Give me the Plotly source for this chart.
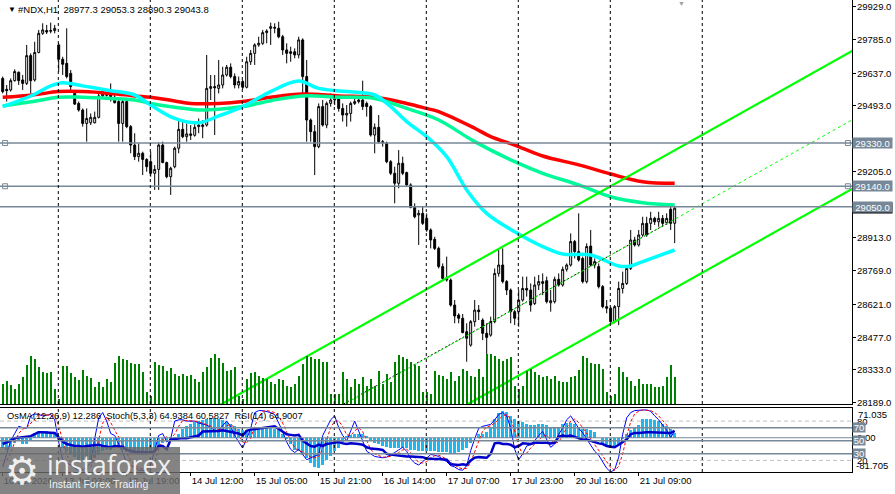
import plotly.graph_objects as go

# ---- #NDX H1 candles (bar index 0..168) ----
opens = [29614, 29566, 29563, 29604, 29641, 29607, 29592, 29714, 29607, 29728,
         29812, 29824, 29821, 29824, 29761, 29698, 29680, 29636, 29548, 29504,
         29475, 29416, 29419, 29419, 29443, 29537, 29545, 29548, 29531, 29512,
         29416, 29512, 29402, 29321, 29270, 29285, 29258, 29248, 29197, 29214,
         29321, 29244, 29182, 29226, 29307, 29390, 29358, 29370, 29364, 29402,
         29402, 29409, 29570, 29578, 29570, 29585, 29629, 29663, 29622, 29585,
         29600, 29575, 29687, 29724, 29761, 29768, 29815, 29834, 29834, 29834,
         29797, 29739, 29731, 29731, 29717, 29783, 29622, 29431, 29380, 29314,
         29490, 29409, 29504, 29519, 29526, 29482, 29453, 29460, 29504, 29512,
         29519, 29504, 29490, 29365, 29399, 29336, 29329, 29248, 29197, 29153,
         29241, 29200, 29146, 29047, 29014, 29021, 28999, 28948, 28907, 28867,
         28787, 28735, 28728, 28618, 28574, 28560, 28501, 28442, 28545, 28596,
         28552, 28494, 28486, 28545, 28757, 28794, 28721, 28684, 28589, 28589,
         28640, 28691, 28684, 28625, 28706, 28713, 28725, 28628, 28633, 28731,
         28706, 28775, 28794, 28897, 28853, 28823, 28721, 28877, 28794, 28787,
         28699, 28611, 28604, 28545, 28611, 28691, 28713, 28779, 28904, 28882,
         28926, 28977, 28977, 28999, 28984, 28999, 28980, 29039, 28977.3]
highs = [29622, 29585, 29614, 29654, 29644, 29629, 29761, 29724, 29775, 29827,
         29856, 29849, 29859, 29849, 29768, 29709, 29834, 29651, 29556, 29512,
         29482, 29482, 29460, 29468, 29548, 29556, 29551, 29592, 29541, 29519,
         29519, 29519, 29409, 29373, 29329, 29292, 29263, 29292, 29233, 29332,
         29336, 29248, 29226, 29314, 29438, 29424, 29416, 29409, 29416, 29438,
         29431, 29717, 29629, 29629, 29695, 29665, 29673, 29680, 29636, 29622,
         29607, 29709, 29739, 29768, 29797, 29827, 29830, 29859, 29856, 29863,
         29805, 29768, 29753, 29746, 29797, 29790, 29695, 29438, 29409, 29504,
         29519, 29512, 29548, 29541, 29541, 29504, 29497, 29512, 29526, 29541,
         29604, 29512, 29497, 29416, 29453, 29343, 29336, 29255, 29226, 29299,
         29270, 29204, 29153, 29065, 29036, 29050, 29021, 28955, 28918, 28875,
         28801, 28831, 28735, 28640, 28582, 28579, 28538, 28552, 28640, 28618,
         28560, 28538, 28567, 28779, 28863, 28867, 28728, 28691, 28596, 28684,
         28743, 28743, 28713, 28743, 28750, 28757, 28743, 28684, 28743, 28757,
         28787, 28801, 28933, 28904, 29021, 28831, 28889, 28948, 28823, 28801,
         28706, 28640, 28611, 28618, 28721, 28765, 28787, 28948, 28918, 28948,
         29006, 29006, 29028, 29006, 29028, 29014, 29021, 29050, 29053.3]
lows = [29548, 29512, 29556, 29600, 29585, 29563, 29585, 29548, 29600, 29724,
        29805, 29809, 29812, 29812, 29644, 29629, 29614, 29556, 29497, 29468,
        29402, 29336, 29409, 29416, 29438, 29531, 29534, 29512, 29504, 29336,
        29336, 29395, 29285, 29255, 29248, 29189, 29204, 29182, 29124, 29124,
        29241, 29175, 29102, 29219, 29285, 29351, 29336, 29343, 29358, 29373,
        29351, 29402, 29519, 29365, 29548, 29570, 29622, 29614, 29570, 29570,
        29566, 29570, 29673, 29673, 29753, 29761, 29768, 29761, 29812, 29790,
        29717, 29680, 29687, 29702, 29702, 29541, 29336, 29336, 29189, 29307,
        29402, 29395, 29490, 29497, 29468, 29424, 29402, 29424, 29497, 29504,
        29475, 29446, 29358, 29285, 29329, 29314, 29241, 29189, 29065, 29131,
        29189, 29138, 29043, 28999, 28882, 28970, 28940, 28867, 28860, 28779,
        28728, 28721, 28611, 28538, 28538, 28494, 28369, 28435, 28523, 28552,
        28464, 28377, 28479, 28538, 28743, 28713, 28662, 28538, 28530, 28523,
        28633, 28655, 28589, 28618, 28684, 28662, 28625, 28589, 28625, 28699,
        28699, 28765, 28787, 28823, 28809, 28713, 28713, 28787, 28779, 28691,
        28604, 28582, 28538, 28538, 28530, 28669, 28706, 28772, 28875, 28875,
        28918, 28918, 28948, 28970, 28962, 28962, 28970, 28948, 28890.3]
closes = [29556, 29560, 29604, 29644, 29604, 29592, 29714, 29604, 29728, 29812,
          29827, 29818, 29824, 29834, 29698, 29676, 29622, 29578, 29501, 29475,
          29416, 29438, 29443, 29443, 29537, 29545, 29540, 29534, 29507, 29416,
          29512, 29402, 29321, 29270, 29285, 29258, 29226, 29197, 29214, 29321,
          29244, 29182, 29219, 29307, 29390, 29358, 29370, 29364, 29399, 29409,
          29409, 29570, 29578, 29573, 29585, 29629, 29663, 29622, 29585, 29600,
          29575, 29687, 29724, 29761, 29768, 29815, 29822, 29841, 29838, 29797,
          29739, 29724, 29724, 29717, 29783, 29622, 29431, 29380, 29314, 29490,
          29409, 29504, 29519, 29526, 29482, 29453, 29460, 29504, 29512, 29519,
          29490, 29490, 29365, 29399, 29336, 29332, 29248, 29197, 29153, 29241,
          29197, 29146, 29047, 29006, 29021, 28977, 28948, 28904, 28867, 28787,
          28735, 28728, 28618, 28570, 28560, 28497, 28472, 28545, 28596, 28589,
          28494, 28476, 28545, 28757, 28794, 28721, 28684, 28589, 28560, 28640,
          28691, 28684, 28618, 28706, 28721, 28721, 28633, 28637, 28731, 28706,
          28775, 28794, 28897, 28853, 28816, 28721, 28875, 28794, 28809, 28699,
          28611, 28604, 28545, 28611, 28691, 28713, 28779, 28904, 28882, 28926,
          28977, 28926, 28999, 28984, 28999, 28977, 28999, 28977, 29043.8]
tick_volume = [2000, 2300, 1900, 1500, 2000, 2700, 3900, 4800, 4500, 3700,
               3200, 3100, 3200, 1500, 500, 3800, 3800, 3100, 2700, 2400,
               3400, 2800, 2600, 1700, 2200, 1700, 2500, 2200, 4100, 4800,
               4500, 4400, 4100, 4000, 4000, 3200, 1200, 800, 4200, 3900,
               3800, 3300, 3600, 3000, 2800, 3000, 2800, 2900, 2500, 2200,
               3200, 3700, 4600, 5000, 4600, 4100, 3300, 3400, 3700, 800,
               500, 2500, 3100, 3200, 2800, 2600, 2500, 2200, 2000, 2500,
               2400, 1800, 1700, 2000, 2800, 4000, 4800, 4700, 4500, 4500,
               4200, 4200, 1000, 1000, 1000, 3200, 2500, 1700, 2500, 2000,
               2700, 1800, 2500, 1800, 3300, 2000, 3000, 2200, 4200, 4900,
               4700, 4500, 4200, 3900, 3800, 1200, 1200, 1000, 3300, 2900,
               2800, 2500, 3200, 2300, 2800, 3500, 3300, 2800, 2700, 3500,
               2700, 5000, 5000, 4800, 4500, 4300, 4500, 4700, 1800, 1500,
               1800, 3300, 3500, 3200, 2900, 2700, 2800, 2500, 2800, 2300,
               2200, 2200, 2700, 2800, 3400, 4800, 4600, 4100, 4000, 4000,
               3500, 1200, 800, 1000, 3700, 3200, 2700, 2300, 1800, 2500,
               2000, 2000, 2000, 1700, 1700, 1800, 2700, 3900, 2700]
bars = list(range(len(opens)))

# moving averages, read at sample bars
ma_red_x = [0, 7.6, 14, 20, 27, 33, 37, 43, 47, 54, 60, 67, 75, 84, 93, 101, 106, 109,
            118, 122, 128, 135, 144, 152, 160, 168]
ma_red_y = [29531, 29541, 29556, 29556, 29548, 29537, 29531, 29515, 29504, 29504, 29512,
            29531, 29545, 29537, 29531, 29504, 29482, 29468, 29395, 29358, 29321, 29273,
            29234, 29194, 29160, 29153]
ma_green_x = [0, 7.6, 14, 20, 27, 33, 37, 43, 49, 54, 60, 67, 75, 84, 93, 101, 109, 118,
              128, 135, 144, 152, 160, 168]
ma_green_y = [29493, 29512, 29531, 29531, 29526, 29519, 29504, 29487, 29475, 29478, 29490,
              29516, 29537, 29531, 29526, 29482, 29431, 29336, 29248, 29197, 29146, 29094,
              29068, 29058]
ma_cyan_x = [0, 7.6, 12, 15, 20, 27, 33, 37, 43, 49, 54, 60, 67, 74, 79, 86, 93, 97, 101,
             106, 111, 116, 121, 128, 135, 140, 147, 154, 157, 160, 168]
ma_cyan_y = [29490, 29541, 29581, 29595, 29581, 29560, 29541, 29497, 29438, 29419, 29449,
             29490, 29556, 29602, 29570, 29556, 29541, 29490, 29424, 29358, 29270, 29124,
             29021, 28940, 28875, 28842, 28838, 28790, 28790, 28809, 28860]

# price channel anchors (bar, price)
chan_bars = [40, 213]
chan_upper = [28038, 29741]
chan_lower = [27432, 29135]
chan_mid = [27735, 29438]
trend_bars = [80, 168]
trend_prices = [28132, 28995]

h_levels = [29330, 29140, 29050]
bid_price = 29043.8

price_ticks = [29929, 29785, 29637, 29493, 29205, 28913, 28769, 28621, 28477, 28333, 28189]

# sub window: OsMA(12,26,9), Stoch(5,3,3), RSI(14)
osma = [-24, -30, -22, -12, -8, -16, -16, -8, 12, 16,
        16, 16, 14, 12, -4, -24, -32, -40, -46, -52,
        -54, -54, -52, -48, -40, -32, -28, -28, -24, -24,
        -28, -32, -36, -38, -40, -40, -40, -36, -28, -20,
        -12, -8, -6, -2, 8, 20, 28, 32, 38, 40,
        42, 44, 46, 46, 44, 42, 38, 34, 28, 22,
        18, 18, 20, 22, 24, 24, 24, 24, 22, 18,
        8, -4, -16, -28, -32, -40, -49, -60, -70, -72,
        -65, -54, -44, -32, -24, -16, 4, 6, 8, 8,
        8, 2, -8, -12, -16, -20, -22, -24, -24, -24,
        -24, -25, -28, -30, -32, -32, -32, -32, -32, -33,
        -33, -33, -36, -38, -33, -28, -24, -12, 0, 8,
        8, 14, 24, 44, 60, 65, 62, 52, 44, 40,
        38, 34, 30, 30, 34, 34, 30, 26, 24, 26,
        32, 36, 36, 32, 26, 22, 20, 18, 14, 0,
        -12, -20, -24, -24, -16, -4, 10, 18, 26, 30,
        44, 44, 44, 42, 40, 34, 28, 22, 12.286]
stoch_main = [10, 32, 50, 61, 72, 70, 69, 88, 91, 90,
              88, 89, 90, 82, 48, 21, 16, 13, 8, 6,
              5, 10, 16, 53, 85, 93, 80, 61, 58, 45,
              32, 16, 12, 10, 5, 5, 5, 13, 37, 58,
              61, 48, 53, 80, 82, 82, 80, 80, 80, 77,
              75, 74, 70, 66, 66, 73, 80, 72, 58, 48,
              39, 53, 69, 93, 96, 96, 95, 93, 90, 77,
              64, 48, 37, 32, 37, 29, 21, 24, 26, 29,
              58, 70, 82, 88, 70, 58, 50, 65, 80, 65,
              48, 34, 30, 26, 25, 24, 25, 28, 32, 36,
              40, 34, 22, 16, 13, 18, 24, 29, 28, 26,
              22, 18, 12, 10, 6, 5, 12, 35, 53, 69,
              72, 73, 75, 82, 90, 93, 88, 69, 37, 21,
              30, 42, 44, 50, 58, 64, 53, 40, 45, 60,
              69, 82, 88, 78, 69, 62, 52, 44, 34, 28,
              18, 8, 2, 6, 25, 60, 85, 93, 96, 97,
              97, 97, 95, 88, 82, 74, 66, 55, 64.9384]
stoch_signal = [15, 20, 31, 48, 61, 68, 70, 76, 83, 90,
                90, 89, 89, 87, 73, 50, 28, 17, 12, 9,
                6, 7, 10, 26, 51, 77, 86, 78, 66, 55,
                45, 31, 20, 13, 9, 7, 5, 8, 18, 36,
                52, 56, 54, 60, 72, 81, 81, 81, 80, 79,
                77, 75, 73, 70, 67, 68, 73, 75, 70, 59,
                48, 47, 54, 72, 86, 95, 96, 95, 93, 87,
                77, 63, 50, 39, 35, 33, 29, 25, 24, 26,
                38, 52, 70, 80, 80, 72, 59, 58, 65, 70,
                64, 49, 37, 30, 27, 25, 25, 26, 28, 32,
                36, 37, 32, 24, 17, 16, 18, 24, 27, 28,
                25, 22, 17, 13, 9, 7, 8, 17, 33, 52,
                65, 71, 73, 77, 82, 88, 90, 83, 65, 42,
                29, 31, 39, 45, 51, 57, 58, 52, 46, 48,
                58, 70, 80, 83, 78, 70, 61, 53, 43, 35,
                27, 18, 9, 5, 11, 30, 57, 79, 91, 95,
                97, 97, 96, 93, 88, 81, 74, 65, 60.5827]
rsi = [45, 47, 50, 54, 55, 56, 56, 57, 60, 63,
       63, 63, 63, 62, 55, 49, 45, 43, 42, 42,
       41, 42, 43, 43, 44, 42, 41, 40, 42, 42,
       41, 36, 34, 33, 33, 33, 33, 32, 34, 42,
       42, 37, 52, 53, 53, 54, 54, 55, 56, 58,
       64, 64, 65, 65, 65, 66, 65, 64, 63, 61,
       58, 65, 67, 68, 68, 69, 70, 71, 72, 68,
       64, 60, 59, 58, 59, 50, 46, 42, 41, 44,
       42, 45, 46, 47, 48, 46, 45, 46, 46, 45,
       44, 40, 38, 38, 37, 36, 30, 29, 28, 28,
       27, 26, 26, 26, 25, 25, 23, 22, 22, 22,
       21, 21, 14, 13, 13, 14, 13, 20, 24, 25,
       25, 24, 30, 46, 47, 45, 45, 44, 40, 42,
       46, 46, 45, 47, 47, 48, 47, 46, 47, 56,
       58, 57, 58, 56, 54, 52, 52, 50, 47, 46,
       45, 42, 41, 40, 44, 48, 52, 60, 62, 62,
       63, 63, 63, 63, 63, 63, 63, 62, 64.9007]
osma_range = [-81.705, 71.035]
stoch_levels_dash = [80, 20]
level_lines = [70, 50, 30]

time_tick_bars = [0, 15, 31, 47, 63, 79, 95, 111, 127, 143, 159]
time_tick_text = ['10 Jul 2026', '13 Jul 03:00', '13 Jul 19:00', '14 Jul 12:00', '15 Jul 05:00',
                  '15 Jul 21:00', '16 Jul 14:00', '17 Jul 07:00', '17 Jul 23:00',
                  '20 Jul 16:00', '21 Jul 09:00']
day_separators = [13.9, 36.9, 59.9, 82.9, 105.9, 128.9, 151.9, 174.9]

# ---- layout geometry (pixels of the 895x494 window) ----
W, H = 895, 494
XR = 852 / W
MAIN = [1 - 404 / H, 1.0]
SUB = [1 - 472 / H, 1 - 408 / H]
XRANGE = [-0.675, 212.33]
FONT = 'Liberation Sans, Arial, sans-serif'
SLATE = '#778899'

fig = go.Figure()

# volumes
fig.add_trace(go.Bar(x=bars, y=tick_volume, width=0.28, marker=dict(color='#008000', line=dict(width=0)),
                     xaxis='x', yaxis='y3', hoverinfo='skip'))

# candles
fig.add_trace(go.Candlestick(
    x=bars, open=opens, high=highs, low=lows, close=closes,
    increasing=dict(line=dict(color='black', width=1), fillcolor='white'),
    decreasing=dict(line=dict(color='black', width=1), fillcolor='black'),
    whiskerwidth=0, xaxis='x', yaxis='y'))

# moving averages
fig.add_trace(go.Scatter(x=ma_red_x, y=ma_red_y, mode='lines',
                         line=dict(color='#FF0000', width=3.5, shape='spline'), xaxis='x', yaxis='y'))
fig.add_trace(go.Scatter(x=ma_green_x, y=ma_green_y, mode='lines',
                         line=dict(color='#00FA9A', width=3.5, shape='spline'), xaxis='x', yaxis='y'))
fig.add_trace(go.Scatter(x=ma_cyan_x, y=ma_cyan_y, mode='lines',
                         line=dict(color='#00FFFF', width=3.5, shape='spline'), xaxis='x', yaxis='y'))

# channel
for prices in (chan_upper, chan_lower):
    fig.add_trace(go.Scatter(x=chan_bars, y=prices, mode='lines',
                             line=dict(color='#00FF00', width=2.2), xaxis='x', yaxis='y'))
fig.add_trace(go.Scatter(x=trend_bars, y=trend_prices, mode='lines',
                         line=dict(color='black', width=1, dash='2px,2px'), xaxis='x', yaxis='y'))
fig.add_trace(go.Scatter(x=chan_bars, y=chan_mid, mode='lines',
                         line=dict(color='#00FF00', width=1, dash='3px,3px'), xaxis='x', yaxis='y'))

# horizontal level anchors
fig.add_trace(go.Scatter(x=[0.6, 211.3, 0.6, 211.3], y=[h_levels[0], h_levels[0], h_levels[1], h_levels[1]],
                         mode='markers', marker=dict(symbol='square-open', size=5, color=SLATE,
                                                     line=dict(width=1, color=SLATE)),
                         xaxis='x', yaxis='y', cliponaxis=False))

# sub window
fig.add_trace(go.Bar(x=bars, y=osma, width=0.7, marker=dict(color='#1EB8F0', line=dict(width=0)),
                     xaxis='x2', yaxis='y2', hoverinfo='skip'))
fig.add_trace(go.Scatter(x=bars, y=stoch_main, mode='lines', line=dict(color='#0000FF', width=1),
                         xaxis='x2', yaxis='y4'))
fig.add_trace(go.Scatter(x=bars, y=stoch_signal, mode='lines', line=dict(color='#FF0000', width=1, dash='3px,2px'),
                         xaxis='x2', yaxis='y4'))
fig.add_trace(go.Scatter(x=bars, y=rsi, mode='lines', line=dict(color='#0000CD', width=2.5),
                         xaxis='x2', yaxis='y4'))

shapes = []
for lv in h_levels:
    shapes.append(dict(type='line', xref='paper', x0=0, x1=XR, yref='y', y0=lv, y1=lv,
                       line=dict(color=SLATE, width=1.5), layer='above'))
for sep in day_separators:
    for dom in (MAIN, SUB):
        shapes.append(dict(type='line', xref='x', x0=sep, x1=sep, yref='paper', y0=dom[0], y1=dom[1],
                           line=dict(color='black', width=1, dash='3px,3px'), layer='above'))
for lv in stoch_levels_dash:
    shapes.append(dict(type='line', xref='paper', x0=0, x1=XR, yref='y4', y0=lv, y1=lv,
                       line=dict(color='#C0C0C0', width=1, dash='4px,3px'), layer='below'))
for lv in level_lines:
    shapes.append(dict(type='line', xref='paper', x0=0, x1=XR, yref='y4', y0=lv, y1=lv,
                       line=dict(color=SLATE, width=1.5), layer='above'))
shapes.append(dict(type='line', xref='paper', x0=0, x1=XR, yref='y2', y0=0, y1=0,
                   line=dict(color=SLATE, width=1), layer='above'))
# watermark box
shapes.append(dict(type='rect', xref='paper', yref='paper', x0=0, x1=180 / W, y0=0, y1=1 - 447 / H,
                   fillcolor='rgba(105,105,105,0.82)', line=dict(width=0), layer='above'))

ann = []
ann.append(dict(text='\u25BC', xref='paper', yref='paper', x=6 / W, y=1 - 10 / H, xanchor='left',
                yanchor='middle', showarrow=False, font=dict(size=8, color='black', family=FONT)))
ann.append(dict(text='#NDX,H1\u00a0\u00a028977.3 29053.3 28890.3 29043.8', xref='paper', yref='paper',
                x=16 / W, y=1 - 10 / H, xanchor='left', yanchor='middle', showarrow=False,
                font=dict(size=9.5, color='black', family=FONT)))
ann.append(dict(text='\u25BC', xref='paper', yref='paper', x=676 / W, y=1 - 3 / H, xanchor='left',
                yanchor='middle', showarrow=False, font=dict(size=7, color='#A0A0A0', family=FONT)))
ann.append(dict(text='OsMA(12,26,9) 12.286\u00a0\u00a0Stoch(5,3,3) 64.9384 60.5827\u00a0\u00a0RSI(14) 64.9007',
                xref='paper', yref='paper', x=5 / W, y=1 - 416 / H, xanchor='left', yanchor='middle',
                showarrow=False, font=dict(size=9.3, color='black', family=FONT)))
# price scale labels
for v in price_ticks:
    ann.append(dict(text=f'{v}.0', xref='paper', yref='y', x=856 / W, y=v, xanchor='left', yanchor='middle',
                    showarrow=False, borderpad=0, font=dict(size=9.5, color='black', family=FONT)))
# price boxes on the right scale
ann.append(dict(text='29043.8', xref='paper', yref='y', x=XR, y=bid_price, xanchor='left', yanchor='middle',
                showarrow=False, bgcolor='black', width=39, height=10, borderpad=0,
                font=dict(size=9.5, color='white', family=FONT)))
for lv in h_levels:
    ann.append(dict(text=f'{lv}.0', xref='paper', yref='y', x=XR, y=lv, xanchor='left', yanchor='middle',
                    showarrow=False, bgcolor=SLATE, width=39, height=10, borderpad=0,
                    font=dict(size=9.5, color='white', family=FONT)))
# sub window scale labels
ann.append(dict(text='0.00', xref='paper', yref='y2', x=856 / W, y=0, xanchor='left', yanchor='middle',
                showarrow=False, borderpad=0, font=dict(size=9.5, color='black', family=FONT)))
for lv in stoch_levels_dash:
    ann.append(dict(text=str(lv), xref='paper', yref='y4', x=856 / W, y=lv, xanchor='left',
                    yanchor='middle', showarrow=False, borderpad=0,
                    font=dict(size=9.5, color='black', family=FONT)))
ann.append(dict(text='71.035', xref='paper', yref='y2', x=857 / W, y=osma_range[1], xanchor='left',
                yanchor='top', showarrow=False, borderpad=0, font=dict(size=9.5, color='black', family=FONT)))
ann.append(dict(text='-81.705', xref='paper', yref='y2', x=855 / W, y=osma_range[0], xanchor='left',
                yanchor='bottom', showarrow=False, borderpad=0, font=dict(size=9.5, color='black', family=FONT)))
for lv in level_lines:
    ann.append(dict(text=str(lv), xref='paper', yref='y4', x=XR, y=lv, xanchor='left', yanchor='middle',
                    showarrow=False, bgcolor=SLATE, width=12, height=9, borderpad=0,
                    font=dict(size=9.5, color='white', family=FONT)))
# watermark
ann.append(dict(text='\u2699', xref='paper', yref='paper', x=22 / W, y=1 - 471 / H, xanchor='center',
                yanchor='middle', showarrow=False, font=dict(size=38, color='rgba(255,255,255,0.9)',
                                                             family='DejaVu Sans')))
ann.append(dict(text='instaforex', xref='paper', yref='paper', x=45 / W, y=1 - 465 / H, xanchor='left',
                yanchor='middle', showarrow=False, font=dict(size=26.5, color='rgba(255,255,255,0.9)',
                                                             family='Open Sans')))
ann.append(dict(text='Instant Forex Trading', xref='paper', yref='paper', x=47 / W, y=1 - 484 / H,
                xanchor='left', yanchor='middle', showarrow=False,
                font=dict(size=10.5, color='rgba(255,255,255,0.9)', family=FONT)))

axis_common = dict(showgrid=False, zeroline=False, showline=True, mirror=True, linecolor='black',
                   linewidth=1, automargin=False)

fig.update_layout(
    width=W, height=H, margin=dict(l=0, r=0, t=0, b=0, autoexpand=False),
    paper_bgcolor='white', plot_bgcolor='white', showlegend=False, bargap=0,
    xaxis=dict(domain=[0, XR], range=XRANGE, anchor='y', showticklabels=False, ticks='',
               rangeslider=dict(visible=False), **axis_common),
    yaxis=dict(domain=MAIN, range=[28183.3, 29958.4], anchor='x', side='right',
               tickvals=price_ticks, showticklabels=False, ticks='outside',
               ticklen=3, tickcolor='black', **axis_common),
    yaxis3=dict(overlaying='y', range=[0, 40400], visible=False),
    xaxis2=dict(domain=[0, XR], range=XRANGE, anchor='y2', tickvals=time_tick_bars, ticktext=time_tick_text,
                ticks='outside', ticklen=3, tickcolor='black', ticklabelposition='outside right',
                tickfont=dict(size=9.5, color='black', family=FONT), **axis_common),
    yaxis2=dict(domain=SUB, range=osma_range, anchor='x2', side='right', showticklabels=False, ticks='',
                **axis_common),
    yaxis4=dict(overlaying='y2', range=[2.3, 100], visible=False),
    shapes=shapes, annotations=ann,
)

# page margin off so the figure sits at the window's top-left corner
fig.write_html('out.html', config={'displayModeBar': False},
               post_script="document.body.style.margin='0';")
